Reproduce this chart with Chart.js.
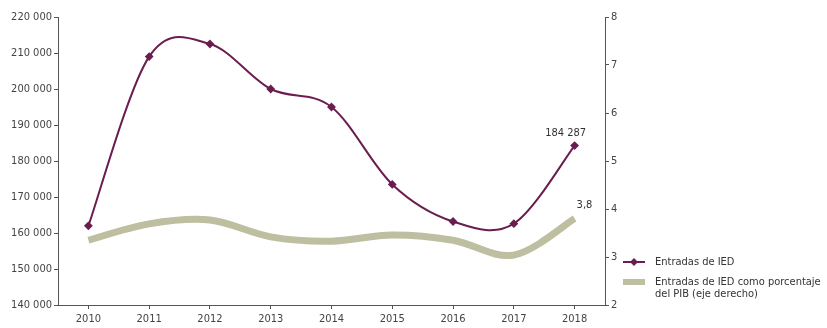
<!DOCTYPE html>
<html lang="es">
<head>
<meta charset="utf-8">
<script src="https://cdn.jsdelivr.net/npm/chart.js@4/dist/chart.umd.min.js"></script>
<style>
  html, body { margin: 0; padding: 0; background: #fff; }
  .global-container { position: relative; width: 827px; height: 328px; }
  canvas { position: absolute; left: 0; top: 0; }
  .legend { position: absolute; left: 622px; font-family: 'DejaVu Sans Condensed', 'Liberation Sans Narrow', sans-serif; font-stretch: condensed; font-size: 11px; color: #333; line-height: 12px; }
  .legend-item { position: absolute; left: 0; white-space: nowrap; }
  .legend-item .swatch { position: absolute; left: 0; }
  .legend-item .label { position: absolute; left: 33px; top: 0; }
</style>
</head>
<body>
<div class="global-container">
  <canvas id="ied" width="827" height="328"></canvas>
  <div class="legend">
    <div class="legend-item" style="top:256px">
      <svg class="swatch" width="24" height="12" style="top:0">
        <line x1="1" y1="6" x2="23" y2="6" stroke="#6b1d4f" stroke-width="2"/>
        <polygon points="12,2 16,6 12,10 8,6" fill="#6b1d4f"/>
      </svg>
      <span class="label">Entradas de IED</span>
    </div>
    <div class="legend-item" style="top:276px">
      <svg class="swatch" width="24" height="12" style="top:0">
        <line x1="1" y1="6" x2="23" y2="6" stroke="#bebea0" stroke-width="6"/>
      </svg>
      <span class="label">Entradas de IED como porcentaje<br>del PIB (eje derecho)</span>
    </div>
  </div>
</div>
<script>
const years = ['2010', '2011', '2012', '2013', '2014', '2015', '2016', '2017', '2018'];
// millones de dólares
const iedInflows = [162000, 209000, 212500, 200000, 195000, 173500, 163200, 162600, 184287];
// % del PIB
const iedPctGdp = [3.35, 3.69, 3.77, 3.42, 3.33, 3.46, 3.35, 3.04, 3.8];
const leftTicks = [140000, 150000, 160000, 170000, 180000, 190000, 200000, 210000, 220000];
const rightTicks = [2, 3, 4, 5, 6, 7, 8];

const tickFont = { family: "'DejaVu Sans Condensed', 'Liberation Sans Narrow', sans-serif", size: 11 };
const axisColor = '#555';

function formatThousands(v) {
  return String(v).replace(/\B(?=(\d{3})+(?!\d))/g, ' ');
}

// uniform Catmull-Rom control points (spreadsheet-style smoothed lines)
const smoothLines = {
  id: 'smoothLines',
  beforeDatasetDraw(chart, args) {
    const line = args.meta.dataset;
    if (!line) return;
    line.updateControlPoints(chart.chartArea, 'x');
    const pts = args.meta.data;
    for (let i = 0; i < pts.length; i++) {
      const prev = pts[Math.max(i - 1, 0)];
      const next = pts[Math.min(i + 1, pts.length - 1)];
      const dx = (next.x - prev.x) / 6;
      const dy = (next.y - prev.y) / 6;
      pts[i].cp1x = pts[i].x - dx;
      pts[i].cp1y = pts[i].y - dy;
      pts[i].cp2x = pts[i].x + dx;
      pts[i].cp2y = pts[i].y + dy;
    }
  }
};

// labels for the last point of each series
const endLabels = {
  id: 'endLabels',
  afterDatasetsDraw(chart) {
    const ctx = chart.ctx;
    ctx.save();
    ctx.font = "11px 'DejaVu Sans Condensed', 'Liberation Sans Narrow', sans-serif";
    ctx.fillStyle = '#333';
    const last = years.length - 1;
    const p0 = chart.getDatasetMeta(0).data[last];
    ctx.textAlign = 'center';
    ctx.textBaseline = 'bottom';
    ctx.fillText(formatThousands(iedInflows[last]), p0.x - 9, p0.y - 7);
    const p1 = chart.getDatasetMeta(1).data[last];
    ctx.textAlign = 'left';
    ctx.fillText(String(iedPctGdp[last]).replace('.', ','), p1.x + 2, p1.y - 8);
    ctx.restore();
  }
};

const chartConfig = {
  type: 'line',
  data: {
    labels: years,
    datasets: [
      {
        label: 'Entradas de IED',
        data: iedInflows,
        yAxisID: 'y',
        borderColor: '#6b1d4f',
        backgroundColor: '#6b1d4f',
        borderWidth: 2,
        tension: 0.4,
        pointStyle: 'rectRot',
        pointRadius: 3,
        order: 0,
      },
      {
        label: 'Entradas de IED como porcentaje del PIB (eje derecho)',
        data: iedPctGdp,
        yAxisID: 'y1',
        borderColor: '#bebea0',
        borderWidth: 7,
        tension: 0.4,
        pointRadius: 0,
        borderCapStyle: 'butt',
        order: 1,
      },
    ],
  },
  options: {
    responsive: false,
    animation: false,
    layout: { padding: { top: 17, left: 0, right: 0, bottom: 0 } },
    plugins: { legend: { display: false }, tooltip: { enabled: false } },
    scales: {
      x: {
        offset: true,
        grid: { display: true, drawOnChartArea: false, offset: false, tickLength: 4, color: axisColor },
        border: { color: axisColor, width: 1 },
        ticks: { color: '#444', font: tickFont, padding: 4, maxRotation: 0 },
        afterFit(scale) { scale.height = 23; },
      },
      y: {
        position: 'left',
        min: 140000,
        max: 220000,
        afterBuildTicks(scale) { scale.ticks = leftTicks.map(v => ({ value: v })); },
        grid: { drawOnChartArea: false, tickLength: 4, color: axisColor },
        border: { color: axisColor, width: 1 },
        ticks: { color: '#444', font: tickFont, padding: 2, callback: v => formatThousands(v) },
        afterFit(scale) { scale.width = 58; },
      },
      y1: {
        position: 'right',
        min: 2,
        max: 8,
        afterBuildTicks(scale) { scale.ticks = rightTicks.map(v => ({ value: v })); },
        grid: { drawOnChartArea: false, tickLength: 4, color: axisColor },
        border: { color: axisColor, width: 1 },
        ticks: { color: '#444', font: tickFont, padding: 2 },
        afterFit(scale) { scale.width = 222; },
      },
    },
  },
  plugins: [smoothLines, endLabels],
};

const myChart = new Chart(document.getElementById('ied'), chartConfig);
</script>
</body>
</html>
